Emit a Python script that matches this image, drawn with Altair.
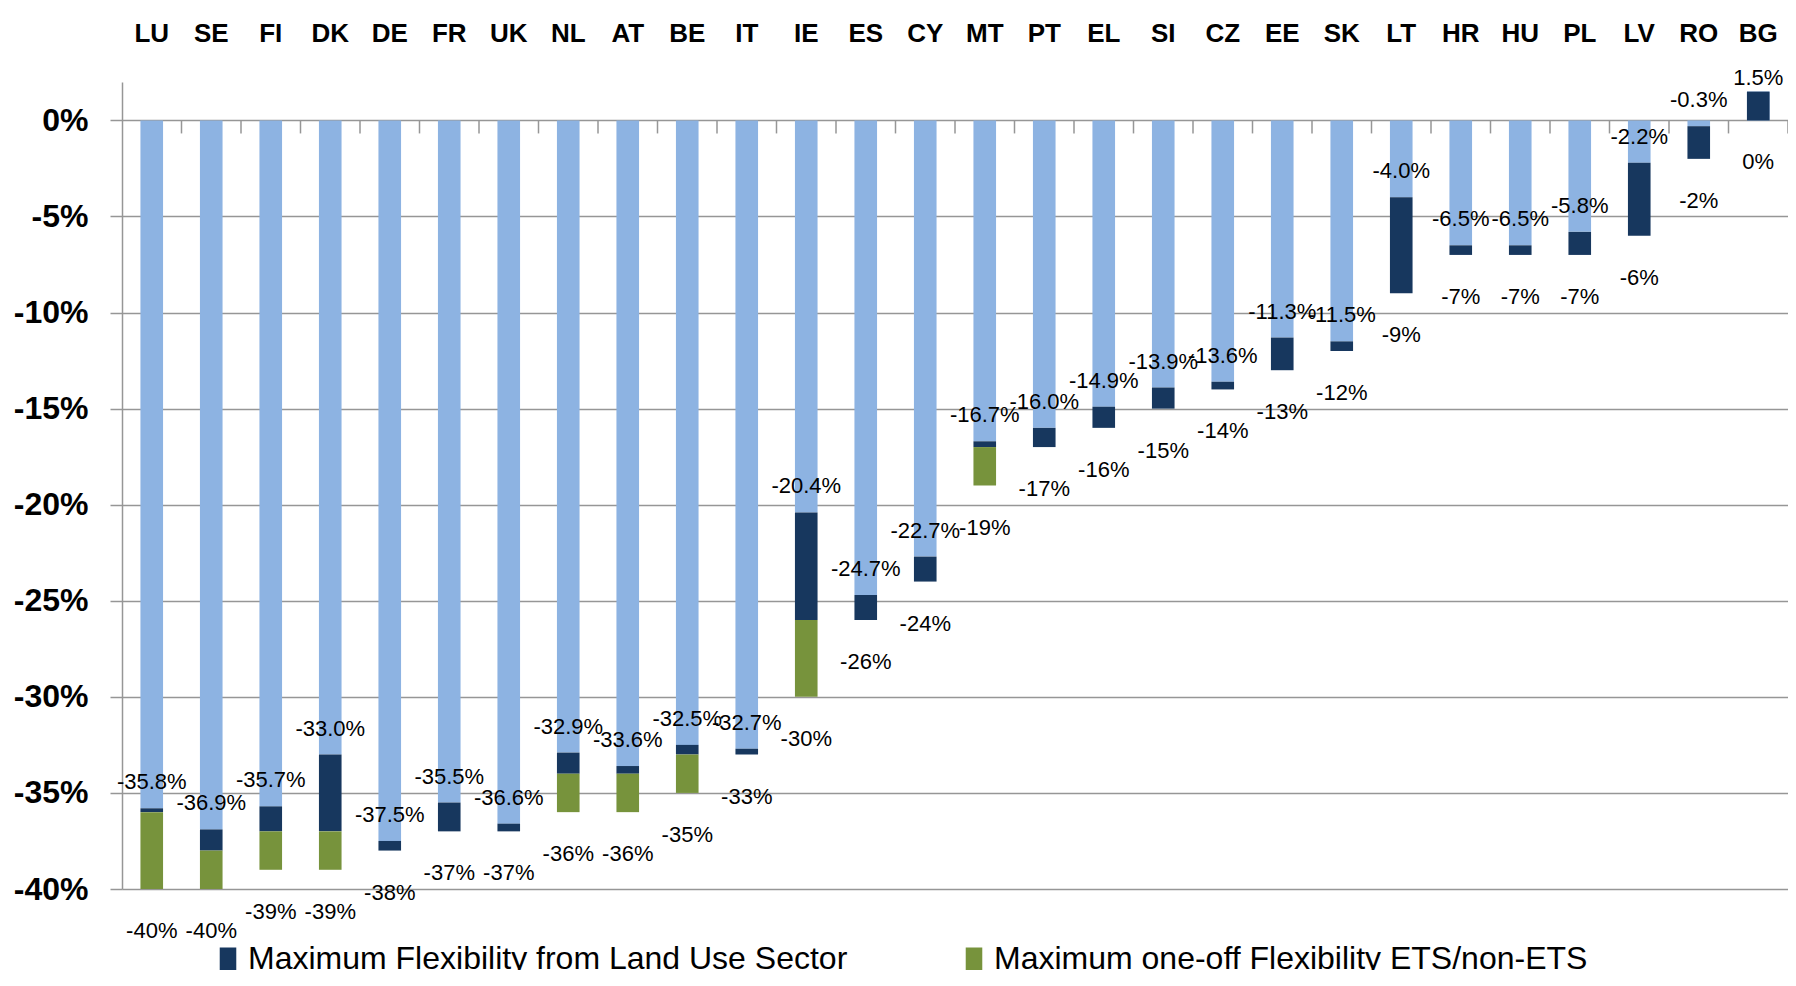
import altair as alt
import pandas as pd

# ---------------- data ----------------
countries = ["LU", "SE", "FI", "DK", "DE", "FR", "UK", "NL", "AT", "BE", "IT", "IE", "ES", "CY",
             "MT", "PT", "EL", "SI", "CZ", "EE", "SK", "LT", "HR", "HU", "PL", "LV", "RO", "BG"]
# effort-sharing reduction (end of light-blue bar, labelled with one decimal), in %
esr_values = [-35.8, -36.9, -35.7, -33.0, -37.5, -35.5, -36.6, -32.9, -33.6, -32.5, -32.7, -20.4,
              -24.7, -22.7, -16.7, -16.0, -14.9, -13.9, -13.6, -11.3, -11.5, -4.0, -6.5, -6.5,
              -5.8, -2.2, -0.3, 1.5]
# end of the land-use flexibility segment, in %
land_use_ends = [-36, -38, -37, -37, -38, -37, -37, -34, -34, -33, -33, -26, -26, -24, -17, -17,
                 -16, -15, -14, -13, -12, -9, -7, -7, -7, -6, -2, 0]
# 2030 target (end of the ETS/non-ETS flexibility segment), in %
targets = [-40, -40, -39, -39, -38, -37, -37, -36, -36, -35, -33, -30, -26, -24, -19, -17, -16,
           -15, -14, -13, -12, -9, -7, -7, -7, -6, -2, 0]
series_names = ["Maximum Flexibility from Land Use Sector",
                "Maximum one-off Flexibility ETS/non-ETS"]
y_tick_values = [0, -5, -10, -15, -20, -25, -30, -35, -40]

# ---------------- style ----------------
FONT = "Liberation Sans"
LIGHT = "#8DB3E2"
NAVY = "#17375E"
GREEN = "#77933C"
GRID = "#969696"

PLOT_W = 1666
PLOT_H = 807
STEP = PLOT_W / len(countries)

base = pd.DataFrame({
    "country": countries,
    "esr": [v / 100 for v in esr_values],
    "lu": [v / 100 for v in land_use_ends],
    "target": [v / 100 for v in targets],
    "zero": [0.0] * len(countries),
    "esr_label": [f"{v:.1f}%" for v in esr_values],
    "target_label": [f"{v:.0f}%" for v in targets],
})

rows = []
for c, e, l, t in zip(countries, esr_values, land_use_ends, targets):
    rows.append({"country": c, "series": series_names[0], "start": e / 100, "end": l / 100})
    if l != t:
        rows.append({"country": c, "series": series_names[1], "start": l / 100, "end": t / 100})
segs = pd.DataFrame(rows)

X = alt.X("country:N", sort=countries,
          scale=alt.Scale(domain=countries, paddingInner=0.62, paddingOuter=0.31),
          axis=alt.Axis(orient="top", title=None, ticks=False, tickSize=0, domain=False,
                        grid=False, labelAngle=0, labelFont=FONT, labelFontSize=26,
                        labelFontWeight="bold", labelColor="black", labelPadding=49,
                        labelBaseline="middle"))
YS = alt.Scale(domain=[-0.40, 0.02], nice=False, zero=False)
YAX = alt.Axis(title=None, values=[v / 100 for v in y_tick_values],
               labelExpr="replace(format(datum.value, '.0%'), '\u2212', '-')",
               labelFont=FONT, labelFontSize=32, labelFontWeight="bold", labelColor="black",
               labelPadding=22, tickSize=12, tickColor=GRID, tickWidth=1.5,
               domainColor=GRID, domainWidth=1.5, grid=True, gridColor=GRID, gridWidth=1.5)

light = alt.Chart(base).mark_bar(color=LIGHT).encode(
    x=X, y=alt.Y("esr:Q", scale=YS, axis=YAX), y2="zero:Q")

stacked = alt.Chart(segs).mark_bar().encode(
    x=X, y=alt.Y("start:Q", scale=YS, axis=YAX), y2="end:Q",
    color=alt.Color("series:N",
                    scale=alt.Scale(domain=series_names, range=[NAVY, GREEN]),
                    legend=alt.Legend(title=None, orient="none", legendX=90, legendY=861,
                                      direction="horizontal",
                                      symbolType="M-0.72,-1H0.72V1H-0.72Z",
                                      symbolSize=529, symbolStrokeWidth=0, symbolOpacity=1,
                                      labelFont=FONT, labelFontSize=32, labelColor="black",
                                      labelLimit=0, labelOffset=4, columnPadding=110,
                                      padding=0)))

cat_ticks = alt.Chart(base).mark_rule(color=GRID, strokeWidth=1.5, xOffset=STEP / 2,
                                      y2Offset=13).encode(
    x=X, y=alt.Y("zero:Q", scale=YS, axis=YAX), y2="zero:Q")

esr_text_neg = alt.Chart(base).transform_filter("datum.esr < 0").mark_text(
    font=FONT, fontSize=22, color="black", baseline="middle", align="center", dy=-26).encode(
    x=X, y=alt.Y("esr:Q", scale=YS, axis=YAX), text="esr_label:N")

esr_text_pos = alt.Chart(base).transform_filter("datum.esr >= 0").mark_text(
    font=FONT, fontSize=22, color="black", baseline="middle", align="center", dy=-14).encode(
    x=X, y=alt.Y("esr:Q", scale=YS, axis=YAX), text="esr_label:N")

target_text = alt.Chart(base).mark_text(
    font=FONT, fontSize=22, color="black", baseline="middle", align="center", dy=42).encode(
    x=X, y=alt.Y("target:Q", scale=YS, axis=YAX), text="target_label:N")

chart = alt.layer(light, stacked, cat_ticks, esr_text_neg, esr_text_pos, target_text).properties(
    width=PLOT_W, height=PLOT_H,
    autosize=alt.AutoSizeParams(type="none"),
    padding={"left": 114, "top": 74, "right": 0, "bottom": 81},
    background="white",
).configure_view(stroke="transparent")

chart.save("out.html", embed_options={"renderer": "svg", "actions": False})
